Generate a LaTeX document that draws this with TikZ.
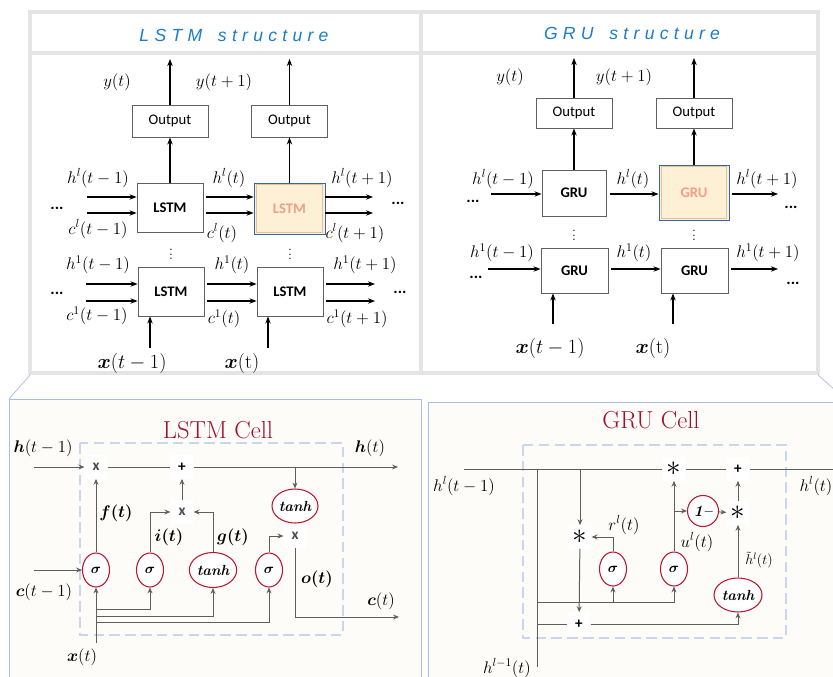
\documentclass[tikz,border=0pt]{standalone}
\usepackage{fontspec}
\usepackage{bm}
\usetikzlibrary{calc,arrows.meta,shapes.geometric}
\newfontfamily\carlito{Carlito}
\newfontfamily\titrefont[LetterSpace=30]{Liberation Sans}

\begin{document}
\begin{tikzpicture}[x=0.03cm,y=-0.03cm,
  fl/.style={-{Stealth[length=6pt,width=4.6pt]},line width=0.9pt},
  flg/.style={-{Stealth[length=5pt,width=4.2pt]},line width=0.85pt,draw=grisFl},
  lig/.style={line width=0.85pt,draw=grisFl},
  boite/.style={draw=gray!75!black,line width=0.8pt,fill=white,inner sep=0pt,
    font=\carlito\bfseries\fontsize{12.5}{14}\selectfont,
    minimum width=1.98cm,minimum height=1.47cm},
  boitehl/.style={boite,draw=bordBleu,fill=jaunePale,text=saumon,
    path picture={\draw[beige,line width=1.1pt]
      ($(path picture bounding box.south west)+(2.5,-1.5)$) rectangle
      ($(path picture bounding box.north east)+(-2.5,1.5)$);}},
  sortie/.style={draw=gray!75!black,line width=0.8pt,fill=white,inner sep=0pt,
    font=\carlito\fontsize{12.5}{14}\selectfont,minimum width=2.28cm,minimum height=0.96cm},
  lab/.style={inner sep=0pt,font=\fontsize{14.5}{16}\selectfont},
  grand/.style={inner sep=0pt,font=\fontsize{17}{19}\selectfont},
  pts/.style={inner sep=0pt,font=\carlito\bfseries\fontsize{14}{16}\selectfont},
  vpts/.style={inner sep=0pt,font=\fontsize{12}{12}\selectfont},
  titre/.style={inner sep=0pt,text=bleuTitre,font=\titrefont\itshape\fontsize{15}{17}\selectfont},
  titrecell/.style={inner sep=0pt,text=rougeTitre,font=\fontsize{21}{24}\selectfont},
  tirets/.style={draw=bleuTir,line width=2.2pt,dash pattern=on 9pt off 4.5pt},
  op/.style={fill=white,inner sep=0pt,minimum width=0.68cm,minimum height=0.7cm,
    text=grisOp,font=\carlito\bfseries\fontsize{13}{14}\selectfont},
  etoile/.style={op,text=black,font=\fontsize{24}{24}\selectfont},
  sig/.style={ellipse,draw=rougeEll,line width=0.9pt,fill=white,inner sep=0pt,
    minimum width=0.81cm,minimum height=1.02cm,font=\fontsize{13}{14}\selectfont},
  th/.style={sig,minimum width=1.42cm,font=\bfseries\itshape\fontsize{12.5}{14}\selectfont},
  lc/.style={inner sep=0pt,font=\fontsize{13.5}{15}\selectfont}
]

% Couleurs
\definecolor{grisCadre}{HTML}{E4E4E4}
\definecolor{bleuTitre}{HTML}{1C7CC8}
\definecolor{bleuPan}{HTML}{A8BEE8}
\definecolor{fondCell}{HTML}{FDFCF9}
\definecolor{bleuTir}{HTML}{C9D6EF}
\definecolor{rougeTitre}{HTML}{A3102E}
\definecolor{rougeEll}{HTML}{BE1530}
\definecolor{grisFl}{HTML}{5E5E5E}
\definecolor{grisOp}{HTML}{4A4A4A}
\definecolor{jaunePale}{HTML}{FDF0D4}
\definecolor{bordBleu}{HTML}{3E62A8}
\definecolor{beige}{HTML}{D8C49E}
\definecolor{saumon}{HTML}{F0A088}

% Fond
\fill[white] (0,0) rectangle (833,677);
\useasboundingbox (0,0) rectangle (833,677);

% Cadres du haut
\draw[grisCadre,line width=3.4pt] (30,12) rectangle (818,373);
\draw[grisCadre,line width=3.4pt] (421,12) -- (421,373);
\draw[grisCadre,line width=3.4pt] (30,53) -- (818,53);

% Panneaux du bas
\fill[fondCell] (9,399) rectangle (421,690);
\fill[fondCell] (428,402) rectangle (845,690);
\draw[bleuPan,line width=0.8pt] (9,690) -- (9,399) -- (421,399) -- (421,690);
\draw[bleuPan,line width=0.8pt] (428,690) -- (428,402) -- (845,402);
\draw[bleuPan,line width=0.6pt] (30,375) -- (9,399);
\draw[bleuPan,line width=0.6pt] (818,375) -- (845,399);

% Titres
\node[titre] (tLSTM) at (234,35) {LSTM\hspace{0.9em}structure};
\node[titre] (tGRU) at (632,33) {GRU\hspace{0.9em}structure};

%% Structure LSTM
\node[sortie] (O1) at (170,121) {Output};
\node[sortie] (O2) at (289.5,121) {Output};
\node[boite] (L1) at (170,207.5) {LSTM};
\node[boitehl,minimum width=2.13cm,minimum height=1.53cm] (L2) at (289.5,208.5) {LSTM};
\node[boite] (L3) at (171,291.5) {LSTM};
\node[boite] (L4) at (290,291.5) {LSTM};

\coordinate (y1) at (170,59);
\coordinate (y2) at (289.5,59);
\draw[fl] (L1) -- (O1);
\draw[fl] (L2) -- (O2);
\draw[fl] (O1) -- (y1);
\draw[fl] (O2) -- (y2);

\foreach \ry in {197,213}{
  \coordinate (g) at (87,\ry);
  \coordinate (d) at (373,\ry);
  \draw[fl] (g) -- (L1.west |- g);
  \draw[fl] ([xshift=2pt]L1.east |- g) -- (L2.west |- g);
  \draw[fl] (L2.east |- g) -- (d);
}
\foreach \ry in {284,301}{
  \coordinate (g) at (86,\ry);
  \coordinate (d) at (375,\ry);
  \draw[fl] (g) -- (L3.west |- g);
  \draw[fl] ([xshift=2pt]L3.east |- g) -- (L4.west |- g);
  \draw[fl] ([xshift=2pt]L4.east |- g) -- (d);
}

\coordinate (xa) at (150,348);
\coordinate (xb) at (268,348);
\draw[fl] (xa) -- (xa |- L3.south);
\draw[fl] (xb) -- (xb |- L4.south);

\foreach \n/\x/\y/\t in {
  ya/117/82/{$y(t)$}, yb/224/82/{$y(t+1)$},
  ha/98/178/{$h^l(t-1)$}, ca/98/229/{$c^l(t-1)$},
  hb/229/178/{$h^l(t)$}, cb/222/233/{$c^l(t)$},
  hc/362/178/{$h^l(t+1)$}, cc/355/233/{$c^l(t+1)$},
  hd/98/265/{$h^1(t-1)$}, cd/97/316/{$c^1(t-1)$},
  he/232/265/{$h^1(t)$}, ce/224/319/{$c^1(t)$},
  hf/365/265/{$h^1(t+1)$}, cf/357/319/{$c^1(t+1)$}}
  \node[lab] (\n) at (\x,\y) {\t};
\foreach \n/\x/\y in {va/171/251, vb/290/251}
  \node[vpts] (\n) at (\x,\y) {$\vdots$};
\foreach \n/\x/\y in {pa/57/208, pb/398/203, pc/57/293, pd/400/292}
  \node[pts] (\n) at (\x,\y) {...};
\node[grand] (xl1) at (132,363) {$\bm{x}(t-1)$};
\node[grand] (xl2) at (242,363) {$\bm{x}(\mathrm{t})$};

%% Structure GRU
\node[sortie,minimum height=0.9cm] (O3) at (574,113) {Output};
\node[sortie,minimum height=0.9cm] (O4) at (694,113) {Output};
\node[boite,minimum width=1.92cm,minimum height=1.38cm] (G1) at (574,193) {GRU};
\node[boitehl,minimum width=2.1cm,minimum height=1.65cm] (G2) at (694,192.5) {GRU};
\node[boite,minimum width=2.01cm,minimum height=1.35cm] (G3) at (574.5,270.5) {GRU};
\node[boite,minimum width=2.01cm,minimum height=1.35cm] (G4) at (694.5,270.5) {GRU};

\coordinate (y3) at (574,58);
\coordinate (y4) at (694,58);
\draw[fl] (G1) -- (O3);
\draw[fl] (G2) -- (O4);
\draw[fl] (O3) -- (y3);
\draw[fl] (O4) -- (y4);

\coordinate (ga) at (491,194);
\coordinate (da) at (778,194);
\draw[fl] (ga) -- (G1.west |- ga);
\draw[fl] ([xshift=3pt]G1.east |- ga) -- (G2.west |- ga);
\draw[fl] ([xshift=2pt]G2.east |- ga) -- (da);
\coordinate (gb) at (488,269);
\coordinate (db) at (778,269);
\draw[fl] (gb) -- (G3.west |- gb);
\draw[fl] ([xshift=2pt]G3.east |- gb) -- (G4.west |- gb);
\draw[fl] ([xshift=2pt]G4.east |- gb) -- (db);

\coordinate (xc) at (553,324);
\coordinate (xd) at (673,324);
\draw[fl] (xc) -- (xc |- G3.south);
\draw[fl] (xd) -- (xd |- G4.south);

\foreach \n/\x/\y/\t in {
  yc/510/77/{$y(t)$}, yd/624/77/{$y(t+1)$},
  hg/503/179/{$h^l(t-1)$}, hh/633/179/{$h^l(t)$}, hi/767/179/{$h^l(t+1)$},
  hj/502/253/{$h^1(t-1)$}, hk/634/253/{$h^1(t)$}, hm/768/253/{$h^1(t+1)$}}
  \node[lab] (\n) at (\x,\y) {\t};
\foreach \n/\x/\y in {vc/574/232, vd/694/232}
  \node[vpts] (\n) at (\x,\y) {$\vdots$};
\foreach \n/\x/\y in {pe/473/201, pf/791/207, pg/476/277, ph/793/283}
  \node[pts] (\n) at (\x,\y) {...};
\node[grand] (xl3) at (550,348) {$\bm{x}(t-1)$};
\node[grand] (xl4) at (653,348) {$\bm{x}(\mathrm{t})$};

%% Cellule LSTM
\draw[tirets] (80,443) rectangle (343,635);
\node[titrecell] (tcL) at (218,430) {LSTM Cell};

\node[op] (m1) at (96,467) {x};
\node[op,text=black] (p1) at (182,467) {+};
\node[op] (m2) at (182,512) {x};
\node[op] (m3) at (295,536) {x};
\node[th,minimum width=1.38cm] (th1) at (295,506) {tanh};
\node[sig] (s1) at (96,570) {$\bm{\sigma}$};
\node[sig] (s2) at (150,570) {$\bm{\sigma}$};
\node[th,minimum height=1.05cm] (th2) at (213,570) {tanh};
\node[sig] (s3) at (269,570) {$\bm{\sigma}$};

\coordinate (hin) at (34,467);
\coordinate (hout) at (398,467);
\coordinate (cin) at (34,570);
\coordinate (cout) at (399,617);
\coordinate (xin) at (96,643);
\coordinate (b1) at (96,609);
\coordinate (b2) at (96,616);
\coordinate (b3) at (96,622);

\draw[flg] (hin) -- (m1);
\draw[lig] (m1) -- (p1);
\draw[flg] (p1) -- (hout);
\draw[flg] (th1.north |- p1) -- (th1);
\draw[flg] (s1) -- (m1);
\draw[flg] (s2.north) |- (m2.west);
\draw[flg] (th2.north) |- (m2.east);
\draw[flg] (m2) -- (p1);
\draw[flg] (s3.north) |- (m3.west);
\draw[flg] (m3.south) |- (cout);
\draw[flg] (cin) -- (s1);
\draw[flg] (xin) -- (s1);
\draw[flg] (b1) -| (s2.south);
\draw[flg] (b2) -| (th2.south);
\draw[flg] (b3) -| (s3.south);

\foreach \n/\x/\y/\t in {
  la/43/448/{$\bm{h}(t-1)$}, lb/370/448/{$\bm{h}(t)$},
  lg/44/592/{$\bm{c}(t-1)$}, lh/381/601/{$\bm{c}(t)$},
  lk/82/657/{$\bm{x}(t)$}}
  \node[lab] (\n) at (\x,\y) {\t};
\foreach \n/\x/\y/\t in {
  lc1/116/513/{$\bm{f(t)}$}, ld/169/537/{$\bm{i(t)}$},
  le/233/537/{$\bm{g(t)}$}, lf/317/579/{$\bm{o(t)}$}}
  \node[lc] (\n) at (\x,\y) {\t};

%% Cellule GRU
\draw[tirets] (523,445) rectangle (786,638);
\node[titrecell] (tcG) at (651,420) {GRU Cell};

\node[etoile] (e1) at (674,469) {$\ast$};
\node[op,text=black] (p2) at (738,469) {+};
\node[etoile] (e2) at (580,537) {$\ast$};
\node[op,text=black] (p3) at (579,624) {+};
\node[etoile] (e3) at (738,513) {$\ast$};
\node[circle,draw=rougeEll,line width=0.9pt,fill=white,inner sep=0pt,minimum size=0.93cm,
  font=\bfseries\itshape\fontsize{13.5}{14}\selectfont] (u1) at (703,511) {1--};
\node[sig] (s4) at (613,569) {$\bm{\sigma}$};
\node[sig] (s5) at (674,569) {$\bm{\sigma}$};
\node[th,minimum width=1.44cm] (th3) at (738,595) {tanh};

\coordinate (hin2) at (464,469);
\coordinate (hout2) at (845,469);
\coordinate (j1) at (537,469);
\coordinate (j2) at (537,667);
\coordinate (k1) at (537,602);
\coordinate (k2) at (537,624);

\draw[lig] (hin2) -- (e1);
\draw[lig] (e1) -- (p2);
\draw[lig] (p2) -- (hout2);
\draw[lig] (j1) -- (j2);
\draw[flg] (e2.north |- hin2) -- (e2);
\draw[flg] (e2) -- (p3);
\draw[flg] (k1) -| (s5.south);
\draw[flg] (s4.south |- k1) -- (s4.south);
\draw[lig] (k2) -- (p3);
\draw[flg] (p3) -| (th3.south);
\draw[flg] (s4.north) |- (e2.east);
\draw[flg] (s5) -- (e1);
\draw[flg] (s5.north |- u1) -- (u1);
\draw[flg] (u1) -- (e3);
\draw[flg] (e3) -- (p2);
\draw[flg] (th3) -- (e3);

\foreach \n/\x/\y/\t in {
  gA/464/486/{$h^l(t-1)$}, gB/816/486/{$h^l(t)$},
  gC/624/525/{$r^l(t)$}, gD/697/542/{$u^l(t)$},
  gF/507/668/{$h^{l-1}(t)$}}
  \node[lab] (\n) at (\x,\y) {\t};
\node[inner sep=0pt,font=\fontsize{12}{14}\selectfont] (gE) at (759,560) {$\tilde{h}^l(t)$};

\end{tikzpicture}
\end{document}
